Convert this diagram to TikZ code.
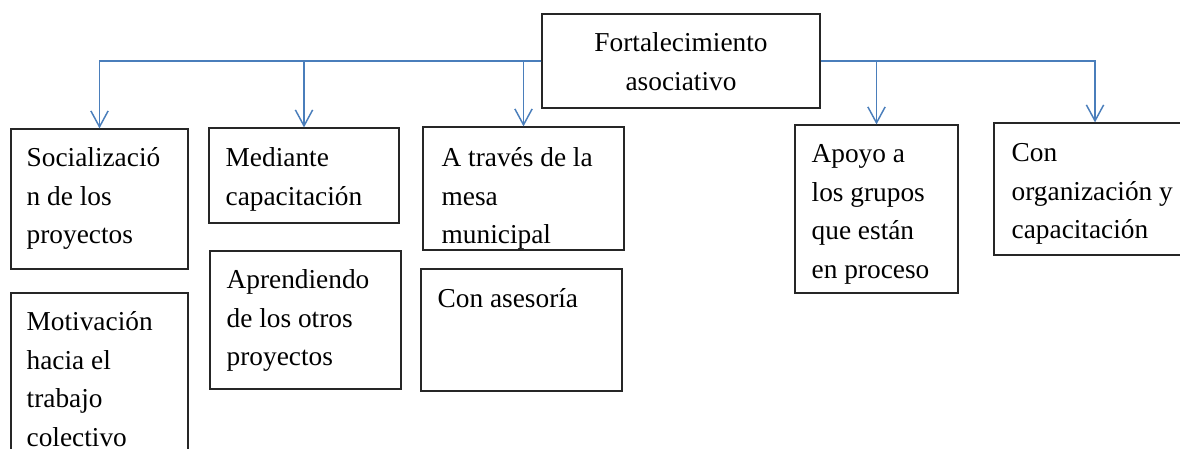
\documentclass[tikz,border=0pt]{standalone}
\usepackage{fontspec}
\setmainfont{Liberation Serif}
\usetikzlibrary{arrows.meta,fit,calc}
\definecolor{connblue}{HTML}{4A7EBB}
\newcommand\mylines[1]{\parbox[t]{8cm}{\raggedright #1}}
\begin{document}
\begin{tikzpicture}[x=0.75pt,y=-0.75pt,
  box/.style={draw=black!85, line width=0.9pt, inner sep=0pt},
  txt/.style={inner sep=0pt, anchor=base west, font=\fontsize{20.5pt}{29pt}\selectfont},
  link/.style={draw=connblue, line width=1.1pt, -{Straight Barb[length=12pt,width=13pt,line width=1.1pt]}}
]
\useasboundingbox (0,0) rectangle (1180,449);
% boxes
\node[box, fit={(542,14)(820,108)}] (top) {};
\node[box, fit={(11,129)(188,269)}] (b1) {};
\node[box, fit={(11,293)(188,470)}] (b1b) {};
\node[box, fit={(209,128)(399,223)}] (b2) {};
\node[box, fit={(210,251)(401,389)}] (b2b) {};
\node[box, fit={(423,127)(624,250)}] (b3) {};
\node[box, fit={(421,269)(622,391)}] (b3b) {};
\node[box, fit={(795,125)(958,293)}] (b4) {};
\node[box, fit={(994,123)(1196,255)}] (b5) {};
% texts
\node[txt, anchor=base] (t0) at (681,52) {\parbox[t]{8cm}{\centering Fortalecimiento\\asociativo}};
\node[txt] (t1) at ($(b1.north west)+(16,38)$) {\mylines{Socializació\\n de los\\proyectos}};
\node[txt] (t1b) at ($(b1b.north west)+(16,38)$) {\mylines{Motivación\\hacia el\\trabajo\\colectivo}};
\node[txt] (t2) at ($(b2.north west)+(17,39)$) {\mylines{Mediante\\capacitación}};
\node[txt] (t2b) at ($(b2b.north west)+(17,38)$) {\mylines{Aprendiendo\\de los otros\\proyectos}};
\node[txt] (t3) at ($(b3.north west)+(19,40)$) {\mylines{A través de la\\mesa\\municipal}};
\node[txt] (t3b) at ($(b3b.north west)+(17,39)$) {\mylines{Con asesoría}};
\node[txt] (t4) at ($(b4.north west)+(17,38)$) {\mylines{Apoyo a\\los grupos\\que están\\en proceso}};
\node[txt] (t5) at ($(b5.north west)+(18,39)$) {\mylines{Con\\organización y\\capacitación}};
% connectors
\draw[link] (top.west) -| (b1.north);
\draw[link] (top.west) -| (b2.north);
\draw[link] (top.west) -| (b3.north);
\draw[link] (top.east) -| (b4.north);
\draw[link] (top.east) -| (b5.north);
\end{tikzpicture}
\end{document}
